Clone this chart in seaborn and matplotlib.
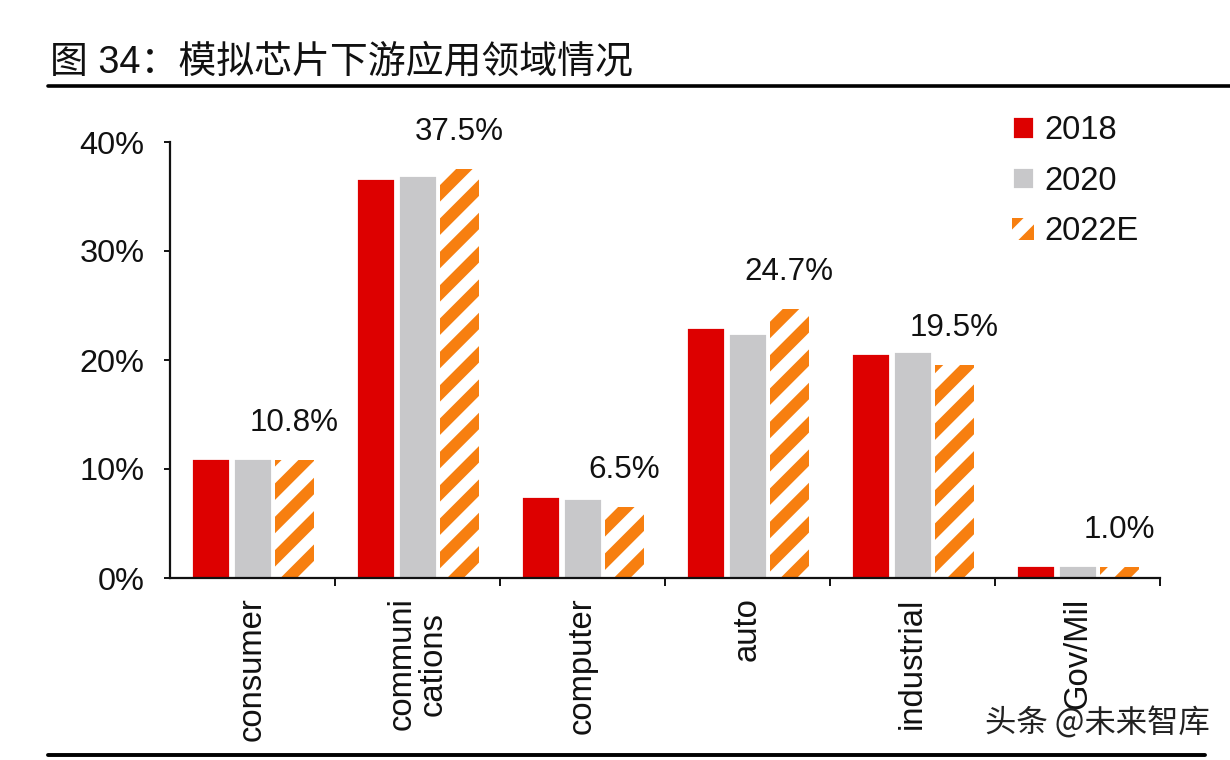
import matplotlib
matplotlib.use('Agg')
import matplotlib.pyplot as plt
import seaborn as sns
import pandas as pd
from matplotlib.lines import Line2D
from matplotlib.ticker import PercentFormatter, FixedLocator

# ---- data ----
categories = ['consumer', 'communi\ncations', 'computer', 'auto', 'industrial', 'Gov/Mil']
years = ['2018', '2020', '2022E']
v2018 = [11.0, 36.7, 7.5, 23.0, 20.6, 1.2]
v2020 = [11.0, 37.0, 7.3, 22.5, 20.8, 1.2]
v2022 = [10.8, 37.5, 6.5, 24.7, 19.5, 1.0]
y_ticks = [0, 10, 20, 30, 40]
title = '图 34：模拟芯片下游应用领域情况'
watermark = '头条 @未来智库'
colors = ['#DD0000', '#C8C8CA', '#F77F10']

sns.set_theme(style='white')
plt.rcParams['font.family'] = ['Liberation Sans', 'Noto Sans CJK SC', 'DejaVu Sans']
plt.rcParams['hatch.linewidth'] = 4.2
plt.rcParams['text.color'] = '#111111'

df = pd.DataFrame({
    'category': categories * 3,
    'year': [y for y in years for _ in categories],
    'value': v2018 + v2020 + v2022,
})

fig = plt.figure(figsize=(6.15, 3.8), dpi=200)
ax = fig.add_axes([170 / 1230, 1 - 578 / 760, 990 / 1230, 436 / 760])
sns.barplot(data=df, x='category', y='value', hue='year', hue_order=years,
            order=categories, palette=colors, width=0.76, gap=0.06,
            saturation=1, errorbar=None, legend=False, ax=ax)

# hatched 2022E bars
for bar in ax.containers[2]:
    bar.set_facecolor('white')
    bar.set_edgecolor(colors[2])
    bar.set_linewidth(0)
    bar.set_hatch('//')

# value labels on 2022E
for bar, val in zip(ax.containers[2], v2022):
    ax.annotate(f'{val:.1f}%', (bar.get_x() + bar.get_width() / 2, bar.get_height()),
                xytext=(0, 8), textcoords='offset points', ha='center', va='bottom',
                fontsize=11.3, color='#111111')

ax.set_ylim(0, 40)
ax.set_xlim(-0.5, 5.5)
ax.yaxis.set_major_locator(FixedLocator(y_ticks))
ax.yaxis.set_major_formatter(PercentFormatter(decimals=0))
ax.set_xlabel('')
ax.set_ylabel('')
for s in ['top', 'right']:
    ax.spines[s].set_visible(False)
for s in ['left', 'bottom']:
    ax.spines[s].set_color('#111111')
    ax.spines[s].set_linewidth(0.8)

ax.tick_params(axis='y', direction='out', length=2.2, width=0.7, pad=7,
               labelsize=11.7, left=True, color='#111111', labelcolor='#111111')
ax.set_xticks(range(len(categories)))
ax.set_xticklabels(categories, rotation=90, va='top', ha='center',
                   linespacing=1.0, multialignment='center')
ax.tick_params(axis='x', which='major', length=0, pad=7, labelsize=11.8, labelcolor='#111111')
ax.set_xticks([i + 0.5 for i in range(len(categories))], minor=True)
ax.tick_params(axis='x', which='minor', direction='out', length=3, width=0.7,
               bottom=True, color='#111111')

ax.legend(handles=ax.containers, labels=years, loc='upper left',
          bbox_to_anchor=(1012 / 1230, 1 - 115 / 760), bbox_transform=fig.transFigure,
          frameon=False, fontsize=11.8, handlelength=0.68, handleheight=0.68,
          labelspacing=0.6, handletextpad=0.3, borderpad=0, borderaxespad=0)

# title and decorations
fig.text(50 / 1230, 1 - 62 / 760, title, fontsize=13.65, va='center', ha='left', color='#111111')
fig.add_artist(Line2D([48 / 1230, 1], [1 - 86 / 760] * 2, color='black', lw=1.3,
                      transform=fig.transFigure))
fig.add_artist(Line2D([48 / 1230, 1205 / 1230], [1 - 755 / 760] * 2, color='black', lw=1.4,
                      transform=fig.transFigure))
fig.text(985 / 1230, 1 - 723 / 760, watermark, fontsize=11.3, va='center', ha='left',
         color='#222222', family=['Noto Sans CJK SC', 'DejaVu Sans'])

fig.savefig('out.png', dpi=200)
